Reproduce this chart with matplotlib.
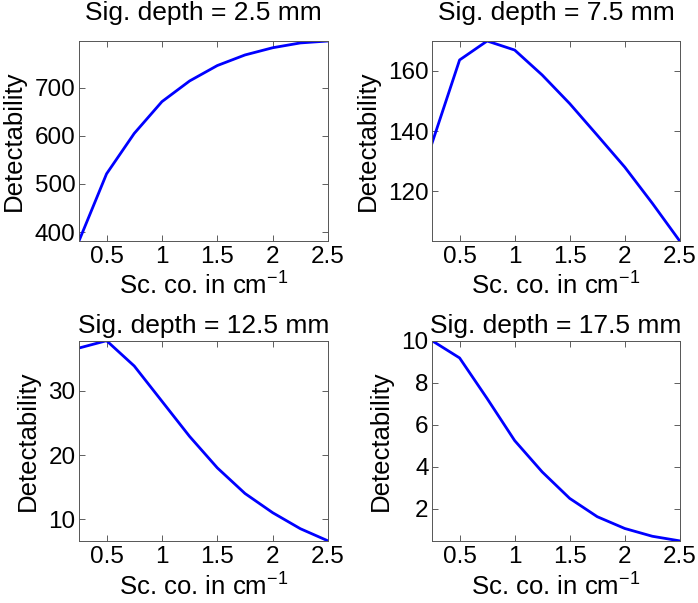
import numpy as np
import matplotlib
matplotlib.use("Agg")
import matplotlib.pyplot as plt

plt.rcParams['font.family'] = ['Liberation Sans', 'DejaVu Sans']
plt.rcParams['mathtext.fontset'] = 'custom'
plt.rcParams['mathtext.rm'] = 'Liberation Sans'
plt.rcParams['mathtext.it'] = 'Liberation Sans'

# scattering coefficient (cm^-1)
sc_co = [0.25, 0.5, 0.75, 1.0, 1.25, 1.5, 1.75, 2.0, 2.25, 2.5]

# detectability for each signal depth
det_2_5 = [381, 521, 605, 671, 714, 746, 768, 783, 793, 797]
det_7_5 = [136.0, 163.6, 169.9, 166.9, 158.6, 149.1, 138.6, 128.0, 116.0, 103.4]
det_12_5 = [36.7, 37.85, 33.9, 28.4, 22.9, 18.0, 14.0, 11.0, 8.5, 6.6]
det_17_5 = [10.0, 9.18, 7.25, 5.25, 3.76, 2.5, 1.63, 1.07, 0.7, 0.48]

titulos = ["Sig. depth = 2.5 mm", "Sig. depth = 7.5 mm",
           "Sig. depth = 12.5 mm", "Sig. depth = 17.5 mm"]
datos = [det_2_5, det_7_5, det_12_5, det_17_5]
yticks = [[400, 500, 600, 700], [120, 140, 160], [10, 20, 30], [2, 4, 6, 8, 10]]
xticks = [0.5, 1, 1.5, 2, 2.5]
xticklabels = ["0.5", "1", "1.5", "2", "2.5"]

fig = plt.figure(figsize=(6.98, 6.03), dpi=100)
posiciones = [[0.113, 0.600, 0.357, 0.332],
              [0.619, 0.600, 0.355, 0.332],
              [0.113, 0.103, 0.357, 0.332],
              [0.619, 0.103, 0.355, 0.332]]
pads_titulo = [15, 15, 5.5, 5.5]
pads_xlabel = [3, 3, 4, 4]

for i in range(4):
    ax = fig.add_axes(posiciones[i])
    ax.plot(sc_co, datos[i], color=(0, 0, 1), lw=2)
    ax.set_xlim(min(sc_co), max(sc_co))
    ax.set_ylim(min(datos[i]), max(datos[i]))
    ax.set_xticks(xticks)
    ax.set_xticklabels(xticklabels)
    ax.set_yticks(yticks[i])
    ax.tick_params(direction='in', top=True, right=True, labelsize=17.5,
                   length=4, width=0.6, colors='#444444', labelcolor='black')
    ax.tick_params(axis='y', pad=2.5)
    for s in ax.spines.values():
        s.set_linewidth(0.7)
        s.set_color('#555555')
    ax.set_title(titulos[i], fontsize=19, pad=pads_titulo[i])
    ax.set_xlabel("Sc. co. in cm$^{-1}$", fontsize=18.5, labelpad=pads_xlabel[i])
    ax.set_ylabel("Detectability", fontsize=18.5, labelpad=6)

plt.savefig("out.png", dpi=100)
